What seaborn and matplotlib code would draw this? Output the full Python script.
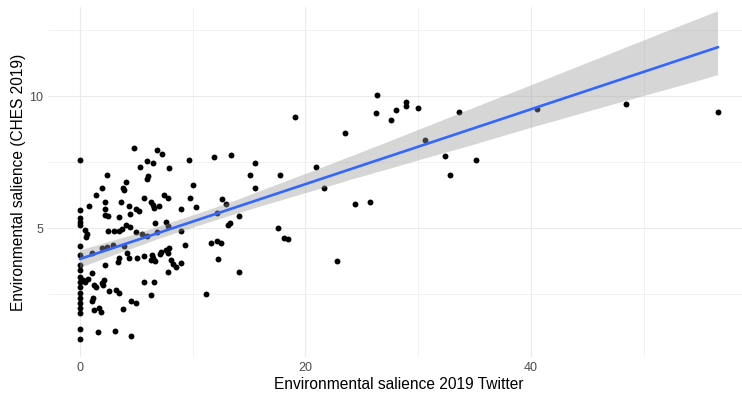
import numpy as np
import pandas as pd
import matplotlib
matplotlib.use("Agg")
import matplotlib.pyplot as plt
import matplotlib.collections as mcoll
import seaborn as sns

# Twitter environmental salience 2019 (x) and CHES 2019 environmental salience (y)
twitter_zero_ches = [7.58, 5.69, 5.38, 5.25, 5.12, 4.33, 3.99, 3.61, 3.42, 3.17,
                     2.98, 2.79, 2.54, 2.35, 2.16, 1.98, 1.79, 1.19, 0.80]

twitter = [
    2.41, 1.93, 1.44, 3.86, 3.95, 4.10, 2.24, 3.66, 0.82, 2.24,
    4.33, 2.20, 2.47, 3.44, 4.10, 0.46, 0.60, 0.55, 2.53, 3.03,
    3.50, 3.74, 1.05, 1.93, 2.41, 2.91, 3.95, 4.15, 3.44, 3.35,
    1.05, 2.24, 0.25, 0.46, 0.69, 1.29, 1.44, 1.93, 2.11, 2.02,
    2.62, 3.21, 3.50, 1.14, 1.05, 1.22, 1.67, 1.88, 3.86, 1.58,
    3.12, 4.54, 4.84, 6.81, 7.29, 5.93, 6.52, 5.34, 7.88, 6.08,
    5.93, 7.50, 7.79, 5.66, 6.32, 6.46, 6.61, 6.99, 4.99, 5.22,
    4.48, 8.98, 4.45, 6.70, 7.59, 7.79, 4.99, 5.48, 5.96, 6.81,
    4.39, 5.08, 5.72, 6.41, 6.52, 6.32, 6.67, 7.14, 7.20, 7.65,
    7.88, 7.79, 8.09, 8.23, 8.54, 8.98, 7.79, 5.66, 6.61, 6.26,
    4.54, 4.99, 9.65, 11.87, 13.42, 10.07, 9.78, 10.31, 12.62, 12.97,
    14.09, 12.17, 8.98, 13.27, 13.11, 11.64, 12.14, 12.53, 9.33, 12.23,
    14.09, 11.14, 15.57, 15.04, 17.71, 15.57, 17.55, 18.08, 18.44, 19.03,
    26.37, 26.28, 27.55, 27.99, 28.88, 28.94, 29.97, 33.59, 23.47, 30.57,
    32.40, 35.16, 32.85, 20.90, 21.61, 24.42, 25.69, 22.82, 40.57, 48.38,
    56.59,
]
ches = [
    7.01, 6.51, 6.25, 6.53, 6.43, 6.76, 5.99, 5.99, 5.84, 5.74,
    5.85, 5.50, 5.45, 5.43, 5.12, 4.94, 4.78, 4.66, 4.89, 4.89,
    4.91, 4.97, 4.08, 4.24, 4.28, 4.37, 4.33, 4.05, 3.87, 3.71,
    3.30, 3.61, 3.05, 2.98, 3.07, 2.86, 2.79, 2.94, 3.05, 2.86,
    2.64, 2.67, 2.54, 2.35, 2.23, 1.91, 1.98, 1.85, 1.95, 1.09,
    1.13, 0.94, 8.02, 7.96, 7.81, 7.54, 7.48, 7.31, 7.27, 6.99,
    6.86, 6.26, 6.13, 6.13, 6.01, 5.88, 5.76, 5.84, 5.73, 5.65,
    5.53, 5.72, 5.06, 5.19, 5.23, 5.10, 4.87, 4.77, 4.72, 4.85,
    3.87, 3.87, 3.95, 3.99, 3.87, 3.80, 3.78, 4.03, 4.12, 4.18,
    4.24, 4.08, 3.80, 3.65, 3.55, 3.70, 3.34, 2.98, 2.98, 2.48,
    2.23, 2.16, 7.58, 7.68, 7.77, 6.64, 6.13, 5.82, 6.10, 5.92,
    5.48, 5.57, 4.90, 5.19, 5.12, 4.43, 4.52, 4.43, 4.37, 3.84,
    3.36, 2.52, 7.46, 7.02, 7.02, 6.51, 5.02, 4.64, 4.58, 9.20,
    10.04, 9.35, 9.08, 9.48, 9.76, 9.64, 9.56, 9.41, 8.61, 8.34,
    7.74, 7.59, 7.02, 7.31, 6.51, 5.92, 5.99, 3.78, 9.51, 9.70,
    9.41,
]

x_ticks = [0, 20, 40]
y_ticks = [5, 10]

df = pd.DataFrame({
    "twitter": [0.0] * len(twitter_zero_ches) + twitter,
    "ches": twitter_zero_ches + ches,
})

sns.set_theme(style="white")
plt.rcParams["font.family"] = ["Liberation Sans", "DejaVu Sans"]

W, H = 742, 401
fig = plt.figure(figsize=(W / 100, H / 100), dpi=100)
# panel runs slightly past the right edge (the reference is cropped there)
ax = fig.add_axes([48 / W, (H - 357) / H, (750 - 48) / W, (357 - 7) / H])

sns.regplot(data=df, x="twitter", y="ches", ax=ax, ci=95, n_boot=1000, seed=1,
            color="#999999",
            scatter_kws={"color": "black", "s": 18, "linewidths": 0, "alpha": 1},
            line_kws={"color": "#3366FF", "linewidth": 1.9})

# style the confidence band like ggplot's geom_smooth
for coll in ax.collections:
    if isinstance(coll, mcoll.PolyCollection):
        coll.set_alpha(None)
        coll.set_facecolor((0.6, 0.6, 0.6, 0.4))
        coll.set_edgecolor("none")

ax.set_xlim(-2.83, 59.42)
ax.set_ylim(0.13, 13.37)
ax.set_xticks(x_ticks)
ax.set_xticks([10, 30, 50], minor=True)
ax.set_yticks(y_ticks)
ax.set_yticks([2.5, 7.5, 12.5], minor=True)
ax.grid(True, which="major", color="#EBEBEB", linewidth=0.8)
ax.grid(True, which="minor", color="#EBEBEB", linewidth=0.45)
ax.set_axisbelow(True)
for s in ax.spines.values():
    s.set_visible(False)
ax.tick_params(axis="both", which="both", length=0, labelsize=9,
               labelcolor="#4D4D4D", pad=3.5)

ax.set_xlabel("Environmental salience 2019 Twitter", fontsize=11.2, color="black", labelpad=2)
ax.set_ylabel("Environmental salience (CHES 2019)", fontsize=11.2, color="black", labelpad=2)

fig.savefig("out.png", dpi=100)
